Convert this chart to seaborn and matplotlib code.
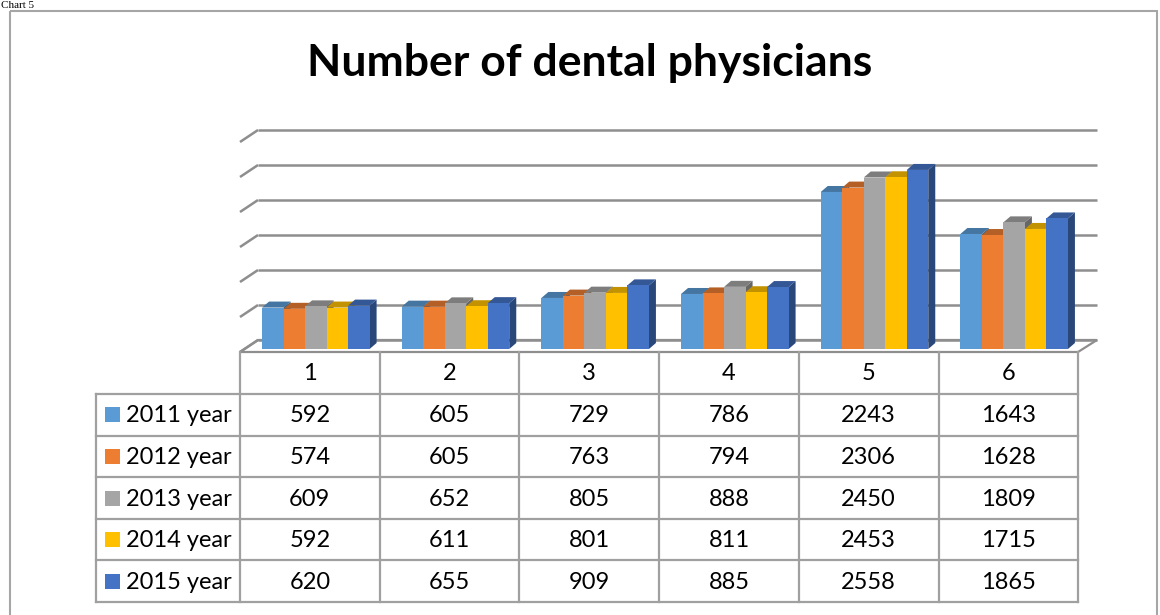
import numpy as np
import pandas as pd
import matplotlib
matplotlib.use("Agg")
import matplotlib.pyplot as plt
import seaborn as sns
from matplotlib.transforms import IdentityTransform
from matplotlib.patches import Polygon, Rectangle
from matplotlib.colors import to_rgb

# ---------------- data ----------------
categories = ["1", "2", "3", "4", "5", "6"]
series_names = ["2011 year", "2012 year", "2013 year", "2014 year", "2015 year"]
v2011 = [592, 605, 729, 786, 2243, 1643]
v2012 = [574, 605, 763, 794, 2306, 1628]
v2013 = [609, 652, 805, 888, 2450, 1809]
v2014 = [592, 611, 801, 811, 2453, 1715]
v2015 = [620, 655, 909, 885, 2558, 1865]
series_values = [v2011, v2012, v2013, v2014, v2015]
colors = ["#5B9BD5", "#ED7D31", "#A5A5A5", "#FFC000", "#4472C4"]
title = "Number of dental physicians"
caption = "Chart 5"
y_max = 3000
y_step = 500

plt.rcParams["font.family"] = ["Lato", "DejaVu Sans"]

W, H = 1160, 615
fig = plt.figure(figsize=(W / 100, H / 100), dpi=100)
fig.patch.set_facecolor("white")

# overlay axes in pixel coordinates (y downward)
ax_t = fig.add_axes([0, 0, 1, 1], zorder=0)
ax_t.set_xlim(0, W)
ax_t.set_ylim(H, 0)
ax_t.axis("off")

# bar axes
ax = fig.add_axes([240 / W, (H - 349) / H, 838 / W, 210 / H], zorder=2)
ax.patch.set_alpha(0)

rows = []
for s, vals in zip(series_names, series_values):
    for c, v in zip(categories, vals):
        rows.append({"category": c, "series": s, "value": v})
df = pd.DataFrame(rows)

sns.barplot(data=df, x="category", y="value", hue="series", order=categories,
            hue_order=series_names, palette=colors, width=0.77, saturation=1,
            linewidth=0, edgecolor="none", legend=False, ax=ax, zorder=3)
shift = 6 / 140
ax.set_xlim(-0.5 - shift, 5.5 - shift)
ax.set_ylim(0, y_max)
ax.axis("off")

grid_c = "#8E8E8E"


def ypix(v):
    """pixel y (downward) of value v on bar front plane"""
    return H - ax.transData.transform((0, v))[1]


# walls / gridlines
for v in range(0, y_max + 1, y_step):
    yf = ypix(v) + 3
    yb = ypix(v) - 9
    ax_t.plot([240, 258], [yf, yb], color=grid_c, lw=1.8, solid_capstyle="butt")
    ax_t.plot([258, 1097], [yb, yb], color=grid_c, lw=1.8, solid_capstyle="butt")
# floor
y0f = ypix(0) + 3
y0b = ypix(0) - 9
ax_t.add_patch(Polygon([(240, y0f), (1078, y0f), (1097, y0b), (258, y0b)],
                       closed=True, facecolor="white", edgecolor=grid_c, lw=1.6))

# 3D faces on bars
dx, dy = 7, 6
for p in ax.patches:
    x0 = p.get_x()
    w = p.get_width()
    h = p.get_height()
    fc = np.array(to_rgb(p.get_facecolor()))
    X0, Y0 = ax.transData.transform((x0, 0))
    X1, Y1 = ax.transData.transform((x0 + w, h))
    top = Polygon([(X0, Y1), (X1, Y1), (X1 + dx, Y1 + dy), (X0 + dx, Y1 + dy)],
                  closed=True, facecolor=fc * 0.76, edgecolor="none",
                  transform=IdentityTransform(), clip_on=False, zorder=2.6)
    side = Polygon([(X1, Y0), (X1, Y1), (X1 + dx, Y1 + dy), (X1 + dx, Y0 + dy)],
                   closed=True, facecolor=fc * 0.62, edgecolor="none",
                   transform=IdentityTransform(), clip_on=False, zorder=2.5)
    ax.add_patch(side)
    ax.add_patch(top)

# data table
tab_c = "#A0A0A0"
col_w = 139.7
col_x = [240 + col_w * i for i in range(len(categories) + 1)]
row_top = 394
row_h = 41.6
n_rows = len(series_names)
table_bottom = row_top + row_h * n_rows
for x in col_x:
    ax_t.plot([x, x], [y0f, table_bottom], color=tab_c, lw=1.6)
ax_t.plot([96, 96], [row_top, table_bottom], color=tab_c, lw=1.6)
for k in range(n_rows + 1):
    y = row_top + row_h * k
    ax_t.plot([96, col_x[-1]], [y, y], color=tab_c, lw=1.6)

fs = 17
for i, c in enumerate(categories):
    ax_t.text(col_x[i] + col_w / 2, (y0f + row_top) / 2 + 1, c, ha="center",
              va="center", fontsize=fs, color="black")
for k, (s, vals) in enumerate(zip(series_names, series_values)):
    yc = row_top + row_h * (k + 0.5)
    ax_t.add_patch(Rectangle((105, yc - 7.5), 15, 15, facecolor=colors[k], edgecolor="none"))
    ax_t.text(126, yc + 1, s, ha="left", va="center", fontsize=fs, color="black")
    for i, v in enumerate(vals):
        ax_t.text(col_x[i] + col_w / 2, yc + 1, str(v), ha="center", va="center",
                  fontsize=fs, color="black")

# title
ax_t.text(590, 63, title, ha="center", va="center", fontsize=32,
          fontweight="bold", color="black")

# outer frame and caption
ax_t.add_patch(Rectangle((9.5, 10.5), 1147, 620, facecolor="none",
                         edgecolor="#A6A6A6", lw=1.5, clip_on=False))
ax_t.text(1, 0.5, caption, ha="left", va="top", fontsize=8,
          family=["Liberation Serif", "DejaVu Serif"], color="black")

fig.savefig("out.png", dpi=100)
